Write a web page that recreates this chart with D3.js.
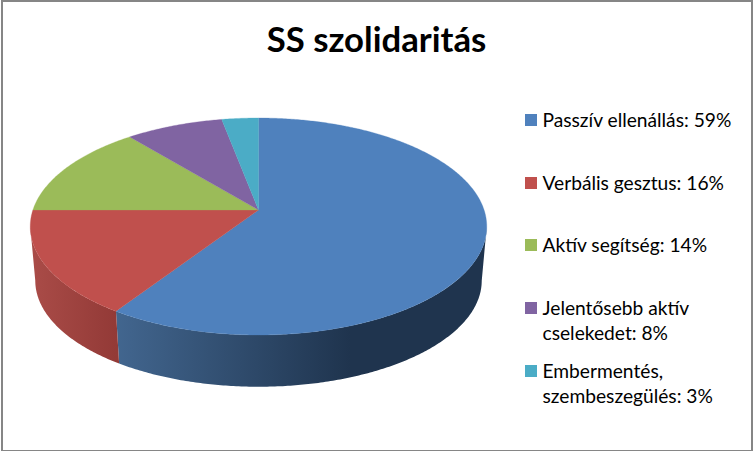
<!DOCTYPE html>
<html><head><meta charset="utf-8">
<script src="https://cdnjs.cloudflare.com/ajax/libs/d3/7.8.5/d3.min.js"></script>
<style>html,body{margin:0;padding:0;background:#fff}svg{display:block}text{font-family:Lato,Carlito,sans-serif;fill:#000}</style>
</head><body><svg id="c" width="753" height="451"></svg>
<script>
const titleText = "SS szolidaritás";
const categories = ["Passzív ellenállás: 59%","Verbális gesztus: 16%","Aktív segítség: 14%","Jelentősebb aktív|cselekedet: 8%","Embermentés,|szembeszegülés: 3%"];
const values = [59.3,15.7,14,8,3];
const colors = ["#4F81BD","#C0504D","#9BBB59","#8064A2","#4BACC6"];
const sideStops = [["#42668F","#1F344E"],["#AA4C48","#933A37"]];

const W=753,H=451;
const svg=d3.select("#c");
svg.append("rect").attr("x",2).attr("y",1).attr("width",750).attr("height",450).attr("fill","#fff").attr("stroke","#868686").attr("stroke-width",2);

const cx=258.5, topY=210, botY=264.5, k=0.152, a=225.6, b=106, s=0.978;
const project=(t,scale,y0,rad=1)=>{const u=rad*Math.sin(t),v=-rad*Math.cos(t),d=1-k*v;
  return [cx+scale*a*u/d, y0+scale*b*v/d];};
const arcPts=(t0,t1,scale,y0)=>{const n=Math.max(2,Math.ceil(Math.abs(t1-t0)/0.01));
  return d3.range(n+1).map(i=>project(t0+(t1-t0)*i/n,scale,y0));};
const line=d3.line();
const arcs=d3.pie().sort(null)(values);

const defs=svg.append("defs");
const tR=Math.acos(-k), tL=2*Math.PI-Math.acos(-k);
arcs.forEach((d,i)=>{
  const t0=Math.max(d.startAngle,tR), t1=Math.min(d.endAngle,tL);
  if(t1<=t0) return;
  const pL=project(t1,1,topY), pR=project(t0,1,topY);
  const g=defs.append("linearGradient").attr("id","side"+i).attr("gradientUnits","userSpaceOnUse")
    .attr("x1",pL[0]).attr("x2",i===0?350:pR[0]).attr("y1",0).attr("y2",0);
  g.append("stop").attr("offset",0).attr("stop-color",sideStops[i][0]);
  g.append("stop").attr("offset",1).attr("stop-color",sideStops[i][1]);
  const pts=arcPts(t0,t1,1,topY).concat(arcPts(t1,t0,s,botY));
  svg.append("path").attr("d",line(pts)+"Z").attr("fill",`url(#side${i})`);
});
arcs.forEach((d,i)=>{
  const pts=[project(0,1,topY,0)].concat(arcPts(d.startAngle,d.endAngle,1,topY));
  svg.append("path").attr("d",line(pts)+"Z").attr("fill",colors[i]).attr("stroke",colors[i]).attr("stroke-width",0.3);
});

svg.append("text").attr("x",376.5).attr("y",52).attr("text-anchor","middle").attr("font-size",34.7).attr("font-weight",700).text(titleText);

const legendY=[120,183,245,308,371];
categories.forEach((c,i)=>{
  svg.append("rect").attr("x",525).attr("y",legendY[i]-6).attr("width",12).attr("height",12).attr("fill",colors[i]);
  c.split("|").forEach((t,j)=>{
    svg.append("text").attr("x",542.5).attr("y",legendY[i]+6.5+j*25).attr("font-size",19.2).text(t);
  });
});
</script></body></html>
